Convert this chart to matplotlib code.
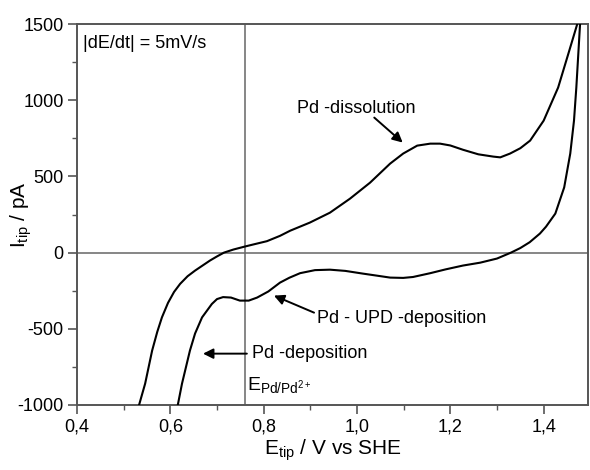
import matplotlib
matplotlib.use("Agg")
import matplotlib.pyplot as plt
from matplotlib.ticker import MultipleLocator, FuncFormatter

plt.rcParams['font.family'] = ['Liberation Sans', 'DejaVu Sans']
plt.rcParams['mathtext.fontset'] = 'custom'
plt.rcParams['mathtext.rm'] = 'Liberation Sans'
plt.rcParams['mathtext.it'] = 'Liberation Sans'

# Forward (anodic) scan
fwd_E = [0.533, 0.546, 0.561, 0.572, 0.582, 0.595, 0.608, 0.621, 0.637, 0.653,
         0.685, 0.700, 0.715, 0.735, 0.760, 0.780, 0.807, 0.835, 0.857, 0.899,
         0.942, 0.985, 1.028, 1.071, 1.099, 1.129, 1.157, 1.178, 1.200, 1.227,
         1.260, 1.292, 1.307, 1.328, 1.350, 1.371, 1.400, 1.431, 1.453, 1.472]
fwd_I = [-1000, -860, -643, -520, -425, -330, -258, -205, -155, -118,
         -52, -25, 0, 20, 40, 55, 75, 110, 144, 197,
         262, 354, 459, 584, 650, 702, 715, 715, 703, 675,
         645, 630, 625, 650, 685, 735, 866, 1083, 1306, 1500]

# Reverse (cathodic) scan
rev_E = [1.478, 1.470, 1.465, 1.457, 1.444, 1.425, 1.405, 1.392, 1.370, 1.350,
         1.330, 1.300, 1.264, 1.227, 1.190, 1.157, 1.120, 1.099, 1.071, 1.040,
         1.013, 0.975, 0.942, 0.910, 0.878, 0.855, 0.835, 0.810, 0.786, 0.768,
         0.749, 0.730, 0.713, 0.700, 0.689, 0.668, 0.653, 0.642, 0.625, 0.616]
rev_I = [1500, 1083, 866, 650, 428, 256, 170, 125, 68, 30,
         0, -39, -66, -85, -110, -135, -160, -166, -164, -150,
         -138, -120, -112, -115, -135, -165, -197, -255, -295, -315,
         -315, -295, -292, -305, -337, -425, -531, -643, -860, -1000]

E_eq = 0.76

x_ticks = [0.4, 0.6, 0.8, 1.0, 1.2, 1.4]
y_ticks = [-1000, -500, 0, 500, 1000, 1500]

fig = plt.figure(figsize=(5.9, 4.7), dpi=100)
ax = fig.add_axes([0.1305, 0.1383, 0.8661, 0.8106])

spine_c = '#555555'
ax.axhline(0, color='#666666', lw=1.1, zorder=1)
ax.axvline(E_eq, color='#666666', lw=1.1, zorder=1)

ax.plot(fwd_E, fwd_I, color='black', lw=1.5, zorder=3)
ax.plot(rev_E, rev_I, color='black', lw=1.5, zorder=3)

ax.set_xlim(0.4, 1.495)
ax.set_ylim(-1000, 1500)
ax.set_xticks(x_ticks)
ax.set_yticks(y_ticks)
ax.xaxis.set_minor_locator(MultipleLocator(0.1))
ax.yaxis.set_minor_locator(MultipleLocator(250))
ax.xaxis.set_major_formatter(FuncFormatter(lambda v, p: f"{v:.1f}".replace('.', ',')))
ax.yaxis.set_major_formatter(FuncFormatter(lambda v, p: f"{int(round(v))}"))

for s in ax.spines.values():
    s.set_color(spine_c)
    s.set_linewidth(1.4)
ax.tick_params(which='major', direction='out', length=6.5, width=1.2, color=spine_c,
               labelsize=13, pad=3, top=False, right=False)
ax.tick_params(which='minor', direction='out', length=3.5, width=1.0, color=spine_c,
               top=False, right=False)

ax.set_xlabel(r'E$_\mathrm{tip}$ / V vs SHE', fontsize=15, labelpad=2)
ax.set_ylabel(r'I$_\mathrm{tip}$ / pA', fontsize=15)
ax.yaxis.set_label_coords(-0.085, 0.5)

ax.text(0.413, 1371, '|dE/dt| = 5mV/s', fontsize=13, ha='left', va='center')

arrow = dict(arrowstyle='-|>,head_length=0.6,head_width=0.3', color='black', lw=1.4,
             shrinkA=0, shrinkB=0)
ax.text(0.872, 945, 'Pd -dissolution', fontsize=13, ha='left', va='center')
ax.annotate('', xy=(1.098, 722), xytext=(1.037, 886), arrowprops=arrow)

ax.text(0.914, -433, 'Pd - UPD -deposition', fontsize=13, ha='left', va='center')
ax.annotate('', xy=(0.822, -282), xytext=(0.908, -394), arrowprops=arrow)

ax.text(0.775, -663, 'Pd -deposition', fontsize=13, ha='left', va='center')
ax.annotate('', xy=(0.670, -663), xytext=(0.764, -663), arrowprops=arrow)

ax.text(0.764, -872, r'E$_\mathrm{Pd/Pd^{2+}}$', fontsize=14, ha='left', va='center')

fig.savefig('out.png', dpi=100)
